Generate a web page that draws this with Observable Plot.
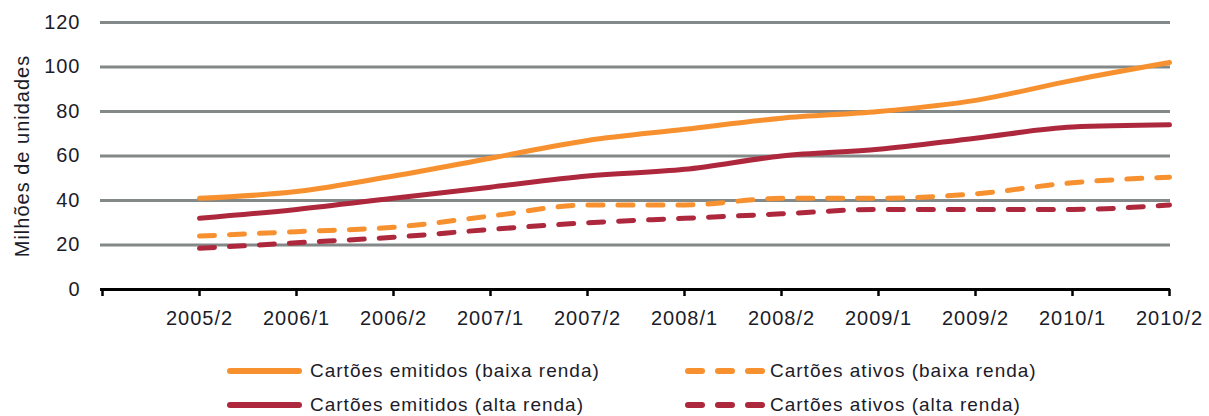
<!DOCTYPE html>
<html>
<head>
<meta charset="utf-8">
<script src="https://cdn.jsdelivr.net/npm/d3@7"></script>
<script src="https://cdn.jsdelivr.net/npm/@observablehq/plot@0.6"></script>
<style>
  body { margin: 0; background: #fff; font-family: "Liberation Sans", Arial, sans-serif; color: #1b1b29; }
  #wrap { position: relative; width: 1209px; height: 416px; overflow: hidden; }
  #chart svg text { letter-spacing: 1px; }
  .item { position: absolute; display: flex; align-items: center; height: 22px; font-size: 19px; letter-spacing: 1px; white-space: nowrap; }
  .item svg { display: block; flex: none; }
</style>
</head>
<body>
<div id="wrap">
  <div id="chart"></div>
  <div id="legend"></div>
</div>
<script>
// ---- data ----
const categories = ["2005/2", "2006/1", "2006/2", "2007/1", "2007/2", "2008/1", "2008/2", "2009/1", "2009/2", "2010/1", "2010/2"];
const emitidosBaixa = [41, 44, 51, 59, 67, 72, 77, 80, 85, 94, 102];
const emitidosAlta  = [32, 36, 41, 46, 51, 54, 60, 63, 68, 73, 74];
const ativosBaixa   = [24, 26, 28, 33, 38, 38, 41, 41, 43, 48, 50.5];
const ativosAlta    = [18.5, 21, 23.5, 27, 30, 32, 34, 36, 36, 36, 38];
const seriesNames = [
  "Cartões emitidos (baixa renda)",
  "Cartões emitidos (alta renda)",
  "Cartões ativos (baixa renda)",
  "Cartões ativos (alta renda)"
];
const yTicks = [0, 20, 40, 60, 80, 100, 120];
const yTitle = "Milhões de unidades";

// ---- styles ----
const orange = "#F7912F";
const red = "#AE283D";
const seriesDefs = [
  { name: seriesNames[0], values: emitidosBaixa, color: orange, dashed: false },
  { name: seriesNames[1], values: emitidosAlta,  color: red,    dashed: false },
  { name: seriesNames[2], values: ativosBaixa,   color: orange, dashed: true },
  { name: seriesNames[3], values: ativosAlta,    color: red,    dashed: true }
];

const rows = seriesDefs.flatMap(s => categories.map((c, i) => ({ series: s.name, period: c, value: s.values[i] })));

const lineMarks = seriesDefs.map(s => Plot.line(rows.filter(r => r.series === s.name), {
  x: "period",
  y: "value",
  stroke: s.color,
  strokeWidth: 5,
  strokeLinecap: "round",
  strokeLinejoin: "round",
  strokeDasharray: s.dashed ? "15,15" : null,
  curve: "monotone-x"
}));

const xDomain = ["", ...categories];

const chart = Plot.plot({
  width: 1209,
  height: 340,
  marginLeft: 100,
  marginRight: 39,
  marginTop: 22,
  marginBottom: 51,
  style: { fontFamily: "'Liberation Sans', Arial, sans-serif", fontSize: "20px", color: "#1b1b29", background: "#fff" },
  x: { type: "point", domain: xDomain, padding: 0 },
  y: { domain: [0, 120] },
  marks: [
    Plot.gridY(yTicks.filter(d => d > 0), { stroke: "#838888", strokeOpacity: 1, strokeWidth: 3 }),
    Plot.axisY(yTicks, { tickSize: 0, tickPadding: 20, fontSize: 20, label: null }),
    Plot.axisX(xDomain, { tickSize: 7, tickPadding: 14, stroke: "#000", strokeWidth: 2.5, fontSize: 20, label: null }),
    Plot.ruleY([0], { stroke: "#000", strokeWidth: 3 }),
    ...lineMarks,
    Plot.text([yTitle], { text: d => d, frameAnchor: "left", textAnchor: "middle", lineAnchor: "middle", dx: -78, rotate: -90, fontSize: 20 })
  ]
});
document.getElementById("chart").appendChild(chart);

// ---- legend (HTML, below the plot) ----
const legendPos = [
  { left: 227, top: 360, width: 75, gap: 8 },
  { left: 227, top: 394, width: 75, gap: 8 },
  { left: 685, top: 360, width: 80, gap: 5 },
  { left: 685, top: 394, width: 80, gap: 5 }
];
const legend = document.getElementById("legend");
seriesDefs.forEach((s, i) => {
  const p = legendPos[i];
  const div = document.createElement("div");
  div.className = "item";
  div.style.left = p.left + "px";
  div.style.top = p.top + "px";
  const ns = "http://www.w3.org/2000/svg";
  const svg = document.createElementNS(ns, "svg");
  svg.setAttribute("width", p.width);
  svg.setAttribute("height", 12);
  const ln = document.createElementNS(ns, "line");
  ln.setAttribute("x1", 3);
  ln.setAttribute("x2", p.width - 3);
  ln.setAttribute("y1", 6);
  ln.setAttribute("y2", 6);
  ln.setAttribute("stroke", s.color);
  ln.setAttribute("stroke-width", 6);
  ln.setAttribute("stroke-linecap", "round");
  if (s.dashed) ln.setAttribute("stroke-dasharray", "14,16");
  svg.appendChild(ln);
  div.appendChild(svg);
  const span = document.createElement("span");
  span.textContent = s.name;
  span.style.marginLeft = p.gap + "px";
  div.appendChild(span);
  legend.appendChild(div);
});
</script>
</body>
</html>
